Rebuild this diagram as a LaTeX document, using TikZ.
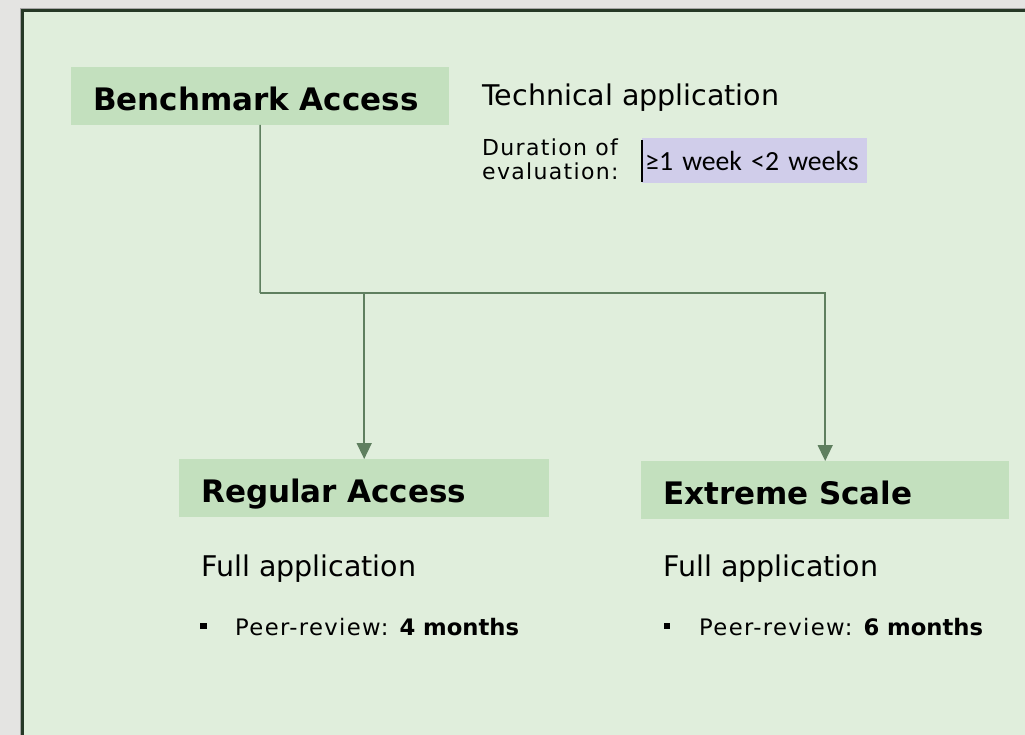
\documentclass[tikz,border=0pt]{standalone}
\usepackage{fontspec}
\setmainfont{DejaVu Sans}
\newfontfamily\calibri{Carlito}
\newfontfamily\spaced[LetterSpace=6]{DejaVu Sans}
\usetikzlibrary{arrows.meta}
\definecolor{outer}{HTML}{E4E4E2}
\definecolor{panel}{HTML}{E0EEDC}
\definecolor{boxfill}{HTML}{C3E0BE}
\definecolor{bordercol}{HTML}{263826}
\definecolor{conncol}{HTML}{5F7F5F}
\definecolor{lav}{HTML}{D0CDEA}
\tikzset{
  headbox/.style={fill=boxfill, draw=none, anchor=north west, inner xsep=22pt,
    inner ysep=0pt, align=left, text height=28.5pt, text depth=0pt,
    font=\bfseries\fontsize{31}{37}\selectfont},
  bigtext/.style={anchor=base west, inner sep=0pt, font=\fontsize{28.5}{34}\selectfont},
  smalltext/.style={anchor=base west, inner sep=0pt, align=left, font=\spaced\fontsize{22}{24}\selectfont},
  conn/.style={draw=conncol, line width=1.5pt},
  arr/.style={conn, -{Triangle[width=15pt,length=16pt]}},
  bulletsq/.style={fill=black, draw=none, minimum size=6.5pt, inner sep=0pt}
}
\begin{document}
\begin{tikzpicture}[x=1pt,y=-1pt]
\useasboundingbox (0,0) rectangle (1025,735);
% background
\fill[outer] (0,0) rectangle (1025,735);
\fill[panel] (21,9) rectangle (1026,736);
\draw[gray!70, line width=0.8pt] (20.2,736) -- (20.2,8.2) -- (1026,8.2);
\draw[bordercol, line width=2.6pt] (22.3,736) -- (22.3,10.3) -- (1026,10.3);
% boxes
\node[headbox, minimum width=378pt, minimum height=57.5pt, text width=334pt] (bench) at (71,67) {Benchmark Access};
\node[headbox, minimum width=370pt, minimum height=58pt, text width=326pt] (reg) at (179,459) {Regular Access};
\node[headbox, minimum width=368pt, minimum height=58pt, text width=324pt] (ext) at (641,461) {Extreme Scale};
% top-right texts
\node[bigtext] (tech) at (482,106) {Technical application};
\node[smalltext] (dur) at (482,180) {Duration of\\evaluation:};
\node[fill=lav, anchor=north west, minimum width=225pt, minimum height=45pt,
      inner xsep=3pt, inner ysep=0pt, text height=19pt, text depth=0pt,
      text width=219pt, align=left, font=\calibri\fontsize{27.7}{32}\selectfont] (hl) at (642,138) {\mbox{≥1 week <2 weeks}};
\draw[black, line width=1.4pt] ([yshift=-2pt]hl.north west) -- ([yshift=1pt]hl.south west);
% lower texts
\node[bigtext] (fullreg) at (201,576) {Full application};
\node[bigtext] (fullext) at (663,576) {Full application};
\node[bulletsq] (b1) at (203.5,626) {};
\node[bulletsq] (b2) at (667,626) {};
\node[anchor=base west, inner sep=0pt, font=\fontsize{22.7}{26}\selectfont] (pr1) at (235,635) {{\spaced Peer-review:} \textbf{4 months}};
\node[anchor=base west, inner sep=0pt, font=\fontsize{22.7}{26}\selectfont] (pr2) at (699,635) {{\spaced Peer-review:} \textbf{6 months}};
% connectors
\coordinate (split) at (260,293);
\draw[conn] (bench.south) -- (split);
\draw[arr] (split) -- (reg.north |- split) -- (reg.north);
\draw[arr] (split) -- (ext.north |- split) -- (ext.north);
\end{tikzpicture}
\end{document}
